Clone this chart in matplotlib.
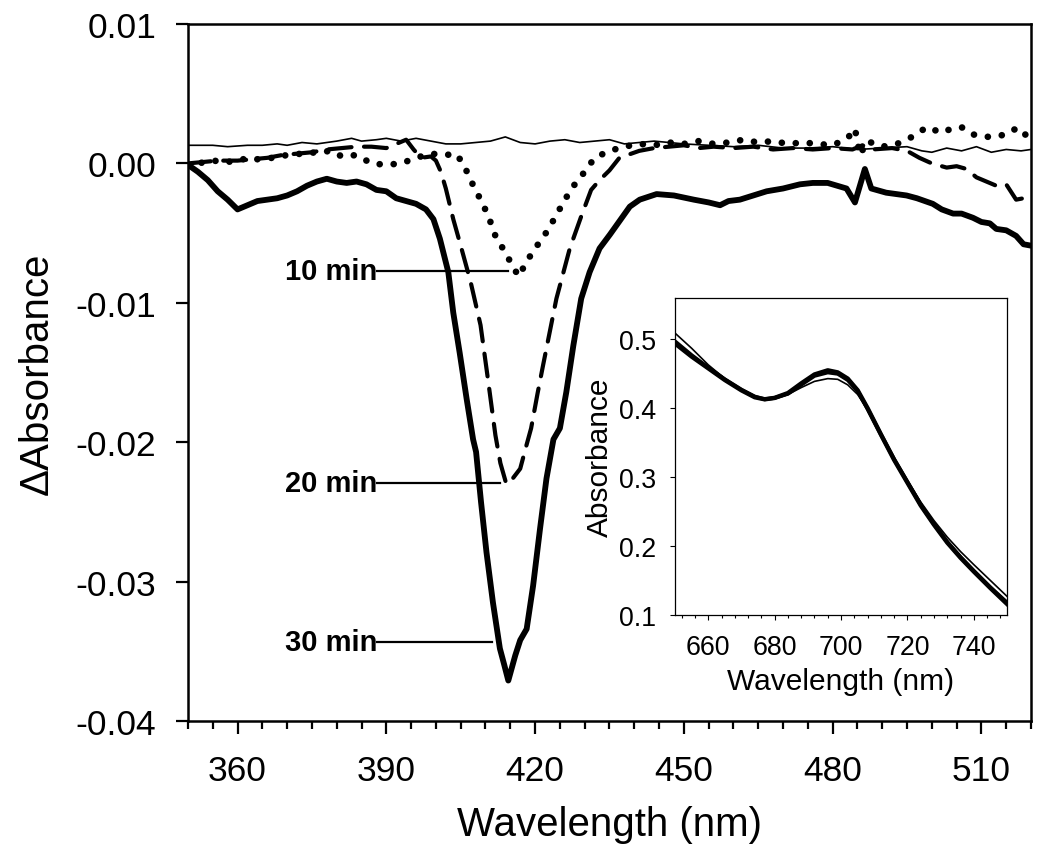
import matplotlib
matplotlib.use("Agg")
import matplotlib.pyplot as plt
from matplotlib.ticker import MultipleLocator, FormatStrFormatter

plt.rcParams['font.family'] = ['Liberation Sans', 'DejaVu Sans']
plt.rcParams['axes.unicode_minus'] = False

# 0 min baseline (thin line)
wl_0 = [350, 355, 358, 362, 365, 368, 370, 373, 376, 380, 383, 385, 388, 390, 393, 396, 399,
        402, 405, 408, 411, 414, 417, 420, 423, 426, 429, 432, 435, 438, 441, 444, 447, 450,
        455, 460, 465, 470, 475, 480, 485, 490, 495, 498, 500, 503, 506, 509, 512, 515, 518, 520]
da_0 = [0.0013, 0.0013, 0.0012, 0.0013, 0.0013, 0.0014, 0.0013, 0.0015, 0.0014, 0.0016, 0.0018,
        0.0016, 0.0017, 0.0018, 0.0016, 0.0018, 0.0016, 0.0014, 0.0014, 0.0015, 0.0016, 0.0019,
        0.0015, 0.0014, 0.0016, 0.0017, 0.0015, 0.0016, 0.0017, 0.0014, 0.0015, 0.0016, 0.0015,
        0.0014, 0.0013, 0.0012, 0.0013, 0.0011, 0.0011, 0.0012, 0.0010, 0.0011, 0.0012, 0.0009,
        0.0008, 0.0011, 0.0009, 0.0012, 0.0008, 0.0010, 0.0009, 0.0010]

# 10 min (dotted)
wl_10 = [350, 352, 355, 358, 361, 364, 367, 370, 373, 376, 379, 381, 384, 387, 390, 393, 396,
         399, 402, 404, 405.5, 407, 409, 410.5, 412, 414, 416, 416.8, 418, 420, 422, 424, 426,
         428, 430, 432, 435, 438, 441, 444, 447, 450, 453, 456, 459, 462, 465, 468, 471, 474,
         477, 480, 483, 484.5, 485.5, 487, 490, 493, 496, 499, 502, 504, 506, 508, 511, 514,
         516, 518, 520]
da_10 = [-0.0002, 0.0000, 0.0002, 0.0001, 0.0003, 0.0003, 0.0004, 0.0006, 0.0007, 0.0008,
         0.0009, 0.0005, 0.0006, 0.0000, -0.0001, 0.0000, 0.0004, 0.0007, 0.0006, 0.0007,
         0.0000, -0.0012, -0.0026, -0.0037, -0.0052, -0.0064, -0.0077, -0.0081, -0.0072,
         -0.0061, -0.0051, -0.0039, -0.0026, -0.0015, -0.0006, 0.0004, 0.0009, 0.0012, 0.0014,
         0.0013, 0.0015, 0.0014, 0.0016, 0.0014, 0.0015, 0.0017, 0.0015, 0.0016, 0.0014,
         0.0015, 0.0014, 0.0013, 0.0018, 0.0025, 0.0006, 0.0016, 0.0012, 0.0014, 0.0019,
         0.0026, 0.0022, 0.0025, 0.0026, 0.0021, 0.0019, 0.0020, 0.0024, 0.0025, 0.0015]

# 20 min (dashed)
wl_20 = [350, 353, 356, 360, 363, 366, 369, 372, 375, 378, 381, 384, 387, 390, 392, 394, 395.5,
         397, 399, 400, 401, 402, 403.5, 405, 407, 409, 410.5, 412, 413, 414.2, 415.5, 417,
         418.2, 419.2, 420.5, 421.6, 424.3, 427, 429.3, 431.3, 433, 435, 437, 441, 444, 447,
         450, 453, 456, 460, 464, 468, 472, 476, 480, 484, 486, 488, 492, 495, 497.5, 500,
         503, 505, 507, 509, 511, 513, 515, 517, 518.5, 520]
da_20 = [0.0000, 0.0001, 0.0002, 0.0002, 0.0003, 0.0004, 0.0006, 0.0007, 0.0008, 0.0010,
         0.0011, 0.0012, 0.0012, 0.0011, 0.0014, 0.0017, 0.0010, 0.0004, 0.0005, 0.0002,
         -0.0006, -0.0018, -0.0040, -0.0059, -0.0085, -0.0116, -0.0155, -0.0195, -0.0215,
         -0.0230, -0.0226, -0.0219, -0.0203, -0.0190, -0.0165, -0.0145, -0.0097, -0.0061,
         -0.0038, -0.0019, -0.0012, -0.0005, 0.0004, 0.0009, 0.0011, 0.0012, 0.0013, 0.0011,
         0.0012, 0.0011, 0.0012, 0.0010, 0.0011, 0.0010, 0.0011, 0.0010, 0.0013, 0.0010,
         0.0011, 0.0009, 0.0004, 0.0000, -0.0003, -0.0002, -0.0004, -0.0010, -0.0013,
         -0.0016, -0.0015, -0.0026, -0.0025, -0.0024]

# 30 min (thick solid)
wl_30 = [350, 352, 354, 356, 358, 360, 362, 364, 366, 368, 370, 372, 374, 376, 378, 380, 382,
         384, 386, 388, 390, 392, 394, 396, 398, 399.5, 400.8, 402.5, 403.5, 404.8, 406.2,
         407.5, 408.1, 409.1, 410.2, 411.5, 412.9, 413.8, 414.6, 415.3, 416, 417, 418.3,
         419.6, 421, 422.3, 423.7, 425, 426.3, 427.7, 429.3, 431, 433, 435.1, 437.1, 439.1,
         441.1, 444.5, 448, 452, 455, 457.3, 459, 461.3, 464, 466.7, 470, 473.4, 476, 479,
         482.8, 484.5, 486.5, 487.8, 490.8, 494.9, 497, 500.2, 502, 504.3, 506, 508.3, 510,
         511.7, 513, 515, 517, 518.5, 520]
da_30 = [-0.0001, -0.0006, -0.0012, -0.0020, -0.0026, -0.0033, -0.0030, -0.0027, -0.0026,
         -0.0025, -0.0023, -0.0020, -0.0016, -0.0013, -0.0011, -0.0013, -0.0014, -0.0013,
         -0.0015, -0.0019, -0.0020, -0.0025, -0.0027, -0.0029, -0.0033, -0.0040, -0.0054,
         -0.0078, -0.0107, -0.0136, -0.0169, -0.0198, -0.0207, -0.0243, -0.0279, -0.0315,
         -0.0348, -0.0360, -0.0371, -0.0362, -0.0353, -0.0342, -0.0334, -0.0303, -0.0262,
         -0.0226, -0.0198, -0.0190, -0.0164, -0.0131, -0.0097, -0.0078, -0.0061, -0.0051,
         -0.0041, -0.0031, -0.0026, -0.0022, -0.0023, -0.0026, -0.0028, -0.0030, -0.0027,
         -0.0026, -0.0023, -0.0020, -0.0018, -0.0015, -0.0014, -0.0014, -0.0018, -0.0028,
         -0.0004, -0.0018, -0.0021, -0.0023, -0.0025, -0.0029, -0.0033, -0.0036, -0.0036,
         -0.0039, -0.0042, -0.0043, -0.0047, -0.0048, -0.0052, -0.0058, -0.0059]

# labels: text, text x, line end x, y
labels = [("10 min", 388.2, 414.5, -0.0077),
          ("20 min", 388.2, 412.9, -0.0229),
          ("30 min", 388.2, 411.3, -0.0343)]

# inset absorbance spectra
wl_in = [650, 655, 660, 665, 670, 674, 677, 680, 684, 688, 692, 696, 699, 702, 705, 708, 712,
         716, 720, 724, 728, 732, 736, 740, 745, 750]
abs_a = [0.494, 0.475, 0.458, 0.441, 0.426, 0.416, 0.413, 0.415, 0.422, 0.436, 0.449, 0.455,
         0.452, 0.443, 0.426, 0.400, 0.362, 0.325, 0.292, 0.259, 0.231, 0.205, 0.183, 0.163,
         0.139, 0.116]
abs_b = [0.497, 0.477, 0.459, 0.442, 0.427, 0.417, 0.413, 0.415, 0.421, 0.434, 0.447, 0.452,
         0.450, 0.441, 0.425, 0.399, 0.362, 0.326, 0.293, 0.260, 0.232, 0.206, 0.184, 0.164,
         0.140, 0.118]
abs_c = [0.509, 0.487, 0.463, 0.443, 0.426, 0.416, 0.413, 0.414, 0.420, 0.430, 0.439, 0.443,
         0.442, 0.434, 0.420, 0.398, 0.362, 0.327, 0.295, 0.264, 0.237, 0.213, 0.192, 0.173,
         0.150, 0.127]

fig = plt.figure(figsize=(10.5, 8.54), dpi=100)
ax = fig.add_axes([0.179, 0.1546, 0.8029, 0.8161])

ax.plot(wl_0, da_0, color='black', lw=1.2)
ax.plot(wl_10, da_10, color='black', lw=4.8, linestyle=(0, (0.01, 2.1)), dash_capstyle='round')
ax.plot(wl_20, da_20, color='black', lw=3.0, linestyle=(0, (5.5, 3.0)), dash_capstyle='round')
ax.plot(wl_30, da_30, color='black', lw=4.2, solid_joinstyle='round', solid_capstyle='round')

for txt, tx, lx, ly in labels:
    ax.plot([tx, lx], [ly, ly], color='black', lw=1.6)
    ax.text(tx, ly, txt, ha='right', va='center', fontsize=21, fontweight='bold')

ax.set_xlim(350, 520)
ax.set_ylim(-0.04, 0.01)
ax.xaxis.set_minor_locator(MultipleLocator(5))
ax.set_xticks([360, 390, 420, 450, 480, 510])
ax.set_yticks([-0.04, -0.03, -0.02, -0.01, 0.0, 0.01])
ax.yaxis.set_major_formatter(FormatStrFormatter('%.2f'))
ax.tick_params(axis='both', which='major', direction='out', length=9, width=1.6,
               labelsize=25.5, pad=15)
ax.tick_params(axis='x', which='minor', direction='out', length=5.5, width=1.6)
ax.tick_params(axis='y', which='major', pad=14)
for s in ax.spines.values():
    s.set_linewidth(1.8)
ax.set_xlabel('Wavelength (nm)', fontsize=29, labelpad=13)
ax.set_ylabel('ΔAbsorbance', fontsize=29, labelpad=14)

# inset
axin = fig.add_axes([0.6429, 0.2787, 0.3162, 0.3712])
axin.plot(wl_in, abs_a, color='black', lw=3.2)
axin.plot(wl_in, abs_b, color='black', lw=2.8)
axin.plot(wl_in, abs_c, color='black', lw=1.2)
axin.set_xlim(650, 750)
axin.set_ylim(0.1, 0.56)
axin.set_xticks([660, 680, 700, 720, 740])
axin.xaxis.set_minor_locator(MultipleLocator(4))
axin.set_yticks([0.1, 0.2, 0.3, 0.4, 0.5])
axin.yaxis.set_major_formatter(FormatStrFormatter('%.1f'))
axin.tick_params(axis='both', which='major', direction='out', length=3.5, width=0.8,
                 labelsize=19.3, pad=10)
axin.tick_params(axis='x', which='minor', direction='out', length=2, width=0.8)
for s in axin.spines.values():
    s.set_linewidth(0.9)
axin.set_xlabel('Wavelength (nm)', fontsize=21.5, labelpad=5)
axin.set_ylabel('Absorbance', fontsize=21.5, labelpad=4)

fig.savefig('out.png', dpi=100)
